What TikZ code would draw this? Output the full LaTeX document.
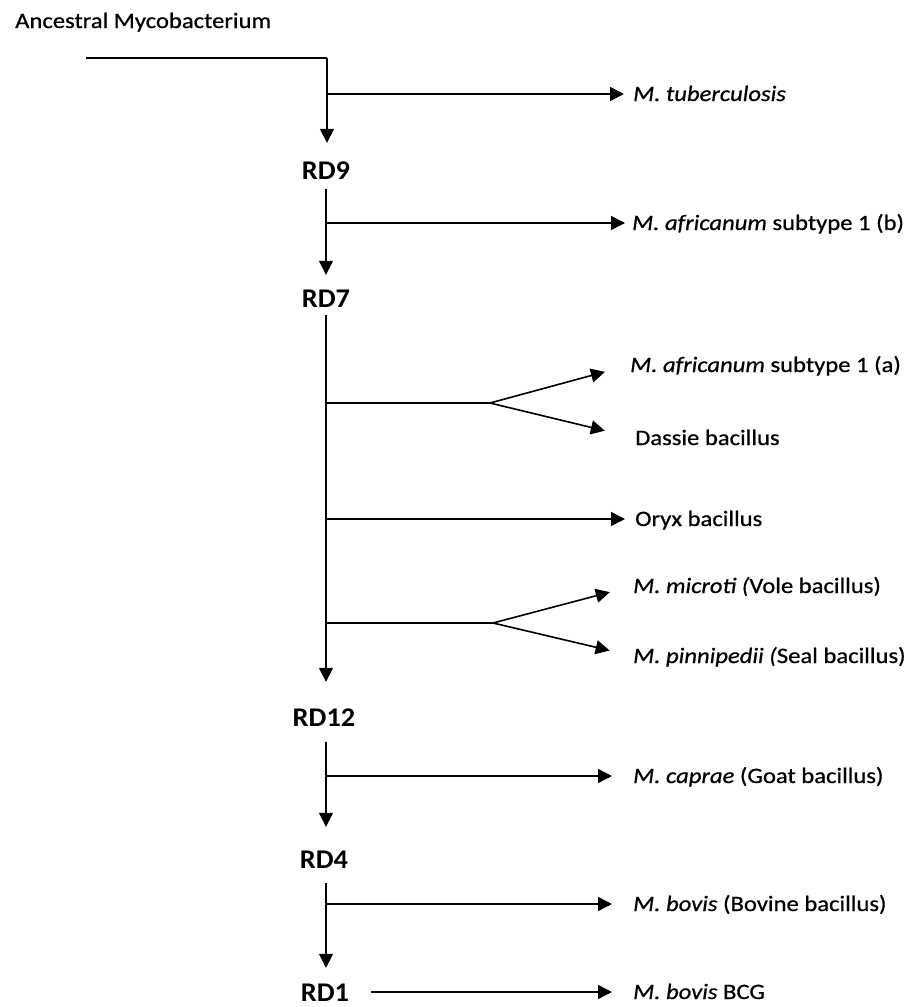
\documentclass[tikz,border=0pt]{standalone}
\usepackage{fontspec}
\setmainfont{Carlito}
\newfontfamily\labfont{Carlito}[FakeStretch=1.12, FakeBold=0.7]
\newfontfamily\rdfont{Carlito}[FakeStretch=1.05]
\usetikzlibrary{arrows.meta}
\tikzset{
  ln/.style={line width=1.6pt, black},
  arr/.style={ln, -{Triangle[length=14pt,width=14pt]}},
  rdlab/.style={font=\rdfont\fontsize{27}{30}\selectfont\bfseries, inner sep=0pt, text height=18pt, text depth=0pt, anchor=center},
  sp/.style={font=\labfont\fontsize{22}{26}\selectfont, inner sep=0pt, text height=14pt, text depth=0pt, anchor=west},
}
\begin{document}
\begin{tikzpicture}[x=1pt,y=-1pt]
\useasboundingbox (0,0) rectangle (917,1007);
% title
\node[sp] (anc) at (15,21) {Ancestral Mycobacterium};
% RD nodes
\node[rdlab] (rd9)  at (326,170) {RD9};
\node[rdlab] (rd7)  at (326,298) {RD7};
\node[rdlab] (rd12) at (324,717) {RD12};
\node[rdlab] (rd4)  at (324,859) {RD4};
\node[rdlab] (rd1)  at (325,992) {RD1};
% species labels
\node[sp] (tub) at (633,94)  {\textit{M. tuberculosis}};
\node[sp] (afb) at (632,223) {\textit{M. africanum} subtype 1 (b)};
\node[sp] (afa) at (630,365) {\textit{M. africanum} subtype 1 (a)};
\node[sp] (das) at (635,438) {Dassie bacillus};
\node[sp] (ory) at (635,519) {Oryx bacillus};
\node[sp] (mic) at (633,586) {\textit{M. microti (}Vole bacillus)};
\node[sp] (pin) at (633,656) {\textit{M. pinnipedii (}Seal bacillus)};
\node[sp] (cap) at (633,776) {\textit{M. caprae} (Goat bacillus)};
\node[sp] (bov) at (633,904) {\textit{M. bovis} (Bovine bacillus)};
\node[sp] (bcg) at (633,992) {\textit{M. bovis} BCG};
% junction coordinates
\coordinate (root) at (86,58);
\coordinate (c0) at (327,58);
\coordinate (b1) at (327,94);
\coordinate (b2) at (326,223);
\coordinate (f1a) at (326,403);
\coordinate (f1) at (490,403);
\coordinate (b3) at (326,519);
\coordinate (f2a) at (326,623);
\coordinate (f2) at (493,623);
\coordinate (b4) at (326,776);
\coordinate (b5) at (326,904);
% trunk
\draw[ln] (root) -- (c0);
\draw[arr, shorten >=18pt] (c0) -- (rd9.north -| c0);
\draw[arr, shorten <=10pt, shorten >=14pt] (rd9.south) -- (rd7.north);
\draw[arr, shorten <=8pt, shorten >=26pt] (rd7.south) -- (rd7.south |- rd12.north);
\draw[arr, shorten <=16pt, shorten >=23pt] (rd12.south -| rd7.south) -- (rd4.north -| rd7.south);
\draw[arr, shorten <=15pt, shorten >=15pt] (rd4.south -| rd7.south) -- (rd1.north -| rd7.south);
% branches
\draw[arr, shorten >=9pt] (b1) -- (tub.west);
\draw[arr, shorten >=7pt] (b2) -- (afb.west);
\draw[ln] (f1a) -- (f1);
\draw[arr, shorten >=26pt] (f1) -- (afa.west);
\draw[arr, shorten >=31pt] (f1) -- (das.west);
\draw[arr, shorten >=10pt] (b3) -- (ory.west);
\draw[ln] (f2a) -- (f2);
\draw[arr, shorten >=24pt] (f2) -- (mic.west);
\draw[arr, shorten >=24pt] (f2) -- (pin.west);
\draw[arr, shorten >=21pt] (b4) -- (cap.west);
\draw[arr, shorten >=21pt] (b5) -- (bov.west);
\draw[arr, shorten <=22pt, shorten >=21pt] (rd1.east) -- (bcg.west);
\end{tikzpicture}
\end{document}
